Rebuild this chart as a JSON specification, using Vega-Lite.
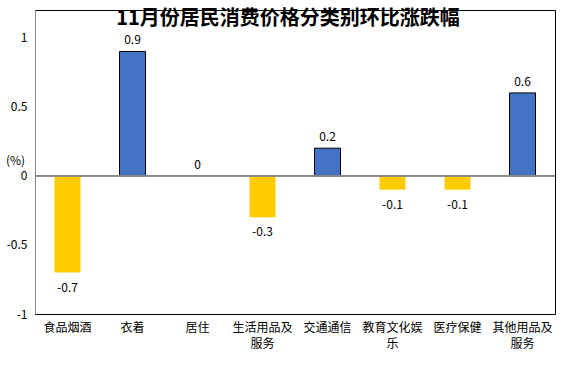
{
  "$schema": "https://vega.github.io/schema/vega-lite/v6.json",
  "width": 520,
  "height": 304,
  "autosize": "none",
  "padding": {"left": 35, "top": 10, "right": 19, "bottom": 60},
  "background": "white",
  "config": {
    "font": "Noto Sans CJK SC",
    "view": {"stroke": "black", "strokeWidth": 1}
  },
  "title": {
    "text": "11月份居民消费价格分类别环比涨跌幅",
    "fontSize": 20,
    "fontWeight": "bold",
    "color": "black",
    "anchor": "middle",
    "offset": -19,
    "dx": -7
  },
  "data": {
    "values": [
      {"category": "食品烟酒", "value": -0.7},
      {"category": "衣着", "value": 0.9},
      {"category": "居住", "value": 0},
      {"category": "生活用品及服务", "value": -0.3},
      {"category": "交通通信", "value": 0.2},
      {"category": "教育文化娱乐", "value": -0.1},
      {"category": "医疗保健", "value": -0.1},
      {"category": "其他用品及服务", "value": 0.6}
    ]
  },
  "encoding": {
    "x": {
      "field": "category",
      "type": "nominal",
      "sort": null,
      "scale": {"paddingInner": 0.6, "paddingOuter": 0.3},
      "axis": {
        "title": null,
        "orient": "bottom",
        "labelAngle": 0,
        "ticks": false,
        "domain": false,
        "labelPadding": 8,
        "labelFontSize": 12,
        "labelColor": "black",
        "labelLineHeight": 16,
        "labelExpr": "datum.label == '生活用品及服务' ? ['生活用品及', '服务'] : datum.label == '教育文化娱乐' ? ['教育文化娱', '乐'] : datum.label == '其他用品及服务' ? ['其他用品及', '服务'] : datum.label"
      }
    },
    "y": {
      "field": "value",
      "type": "quantitative",
      "scale": {"domain": [-1, 1.2], "nice": false},
      "axis": {
        "values": [-1, -0.5, 0, 0.5, 1],
        "labelExpr": "'' + datum.value",
        "grid": false,
        "ticks": false,
        "domain": true,
        "domainColor": "#888888",
        "labelPadding": 8,
        "labelFontSize": 12,
        "labelColor": "black",
        "title": "(%)",
        "titleAngle": 0,
        "titleX": -20,
        "titleY": 150,
        "titleAlign": "center",
        "titleBaseline": "middle",
        "titleFontWeight": "normal",
        "titleFontSize": 12,
        "titleColor": "black"
      }
    }
  },
  "layer": [
    {
      "mark": {"type": "bar", "strokeWidth": 1},
      "encoding": {
        "color": {
          "condition": {"test": "datum.value > 0", "value": "#4472C4"},
          "value": "#FFCC00"
        },
        "stroke": {
          "condition": {"test": "datum.value > 0", "value": "black"},
          "value": null
        }
      }
    },
    {
      "mark": {"type": "rule", "color": "#888888", "strokeWidth": 1},
      "encoding": {"y": {"datum": 0}, "x": null}
    },
    {
      "transform": [{"filter": "datum.value >= 0"}],
      "mark": {"type": "text", "baseline": "bottom", "dy": -4, "fontSize": 12, "color": "black"},
      "encoding": {"text": {"field": "value", "type": "nominal"}}
    },
    {
      "transform": [{"filter": "datum.value < 0"}],
      "mark": {"type": "text", "baseline": "top", "dy": 10, "fontSize": 12, "color": "black"},
      "encoding": {"text": {"field": "value", "type": "nominal"}}
    }
  ]
}
